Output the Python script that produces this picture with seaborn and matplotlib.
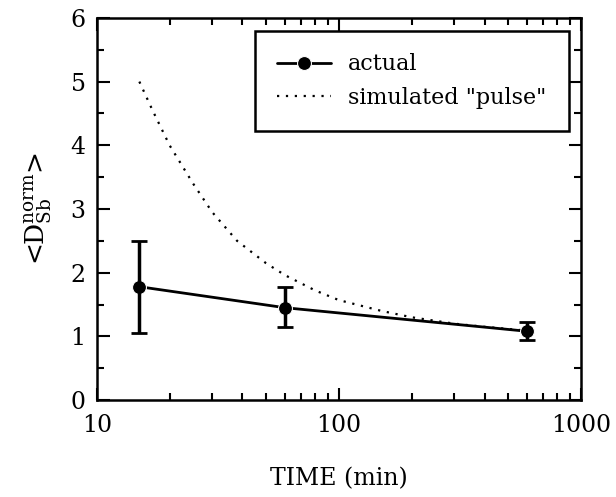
import numpy as np
import pandas as pd
import seaborn as sns
import matplotlib.pyplot as plt
from matplotlib.ticker import MultipleLocator, LogLocator, NullFormatter

# measured values
time_actual = [15, 60, 600]
d_actual = [1.78, 1.45, 1.08]
err_low = [1.05, 1.15, 0.95]
err_high = [2.50, 1.77, 1.22]

# simulated "pulse" curve
time_sim = [15, 17, 20, 25, 30, 38, 50, 60, 80, 100, 150, 200, 300, 400, 600]
d_sim = [5.0, 4.55, 4.0, 3.4, 2.95, 2.5, 2.15, 1.96, 1.72, 1.57, 1.40, 1.30, 1.20, 1.15, 1.09]

sns.set_style("ticks", {"axes.edgecolor": "black", "text.color": "black",
                        "axes.labelcolor": "black", "xtick.color": "black",
                        "ytick.color": "black"})
plt.rcParams["font.family"] = ["DejaVu Serif"]
plt.rcParams["mathtext.fontset"] = "dejavuserif"

actual = pd.DataFrame({"time": time_actual, "d": d_actual})
sim = pd.DataFrame({"time": time_sim, "d": d_sim})

fig = plt.figure(figsize=(6.16, 4.97), dpi=100)
ax = fig.add_axes([0.157, 0.195, 0.786, 0.769])

sns.lineplot(data=sim, x="time", y="d", ax=ax, color="black", linestyle=(0, (1, 3)),
             linewidth=1.6, label='simulated "pulse"')
sns.lineplot(data=actual, x="time", y="d", ax=ax, color="black", linewidth=2,
             marker="o", markersize=10, label="actual")
yerr = [np.array(d_actual) - np.array(err_low), np.array(err_high) - np.array(d_actual)]
ax.errorbar(time_actual, d_actual, yerr=yerr, fmt="none", ecolor="black",
            elinewidth=2.5, capsize=6, capthick=2)

ax.set_xscale("log")
ax.set_xlim(10, 1000)
ax.set_ylim(0, 6)
ax.yaxis.set_major_locator(MultipleLocator(1))
ax.yaxis.set_minor_locator(MultipleLocator(0.5))
ax.xaxis.set_minor_locator(LogLocator(base=10, subs=np.arange(2, 10)))
ax.xaxis.set_minor_formatter(NullFormatter())
ax.set_xticks([10, 100, 1000])
ax.set_xticklabels(["10", "100", "1000"])

ax.tick_params(which="both", direction="in", top=True, right=True, labelsize=17,
               width=1.5, colors="black")
ax.tick_params(which="major", length=9, pad=10)
ax.tick_params(which="minor", length=5)
ax.tick_params(axis="y", pad=8)
for s in ax.spines.values():
    s.set_linewidth(1.8)
    s.set_color("black")

ax.set_xlabel("TIME (min)", fontsize=17, labelpad=22, color="black")
ax.set_ylabel(r"<D$_{\mathrm{Sb}}^{\mathrm{norm}}$>", fontsize=19, labelpad=12, color="black")

handles, labels = ax.get_legend_handles_labels()
order = [labels.index("actual"), labels.index('simulated "pulse"')]
leg = ax.legend([handles[i] for i in order], [labels[i] for i in order],
                loc="upper right", bbox_to_anchor=(0.975, 0.965), fontsize=16,
                frameon=True, fancybox=False, handlelength=2.4, borderpad=1.0,
                labelspacing=0.5, borderaxespad=0)
leg.get_frame().set_edgecolor("black")
leg.get_frame().set_linewidth(1.8)
leg.get_frame().set_alpha(1)

fig.savefig("out.png", dpi=100)
